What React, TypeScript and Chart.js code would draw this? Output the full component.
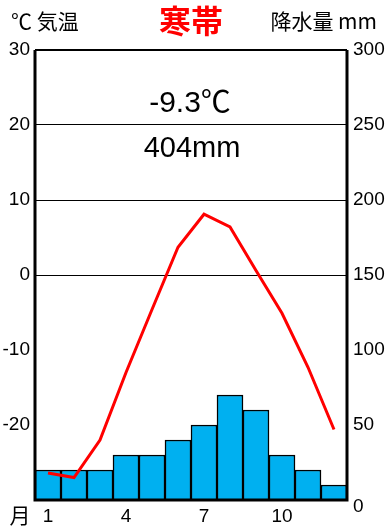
import React, { useEffect, useRef } from "react";
import { Chart, registerables } from "chart.js";

Chart.register(...registerables);

const months = ["1", "2", "3", "4", "5", "6", "7", "8", "9", "10", "11", "12"];
const shownMonthLabels = ["1", "4", "7", "10"];
const temperature = [-26.4, -27.0, -22.0, -13.0, -4.6, 3.7, 8.1, 6.4, 0.6, -5.1, -12.3, -20.6];
const precipitation = [20, 20, 20, 30, 30, 40, 50, 70, 60, 30, 20, 10];
const gridTemps = [0, 10, 20];
const title = "寒帯";
const leftTitle = "℃ 気温";
const rightTitle = "降水量 mm";
const meanTempText = "-9.3℃";
const totalPrecipText = "404mm";
const monthAxisText = "月";

const NUM_FONT = '"Liberation Sans", Arial, sans-serif';
const JP_FONT = '"Noto Sans CJK JP", sans-serif';

export default function App() {
  const ref = useRef<HTMLCanvasElement | null>(null);
  useEffect(() => {
    const canvas = ref.current;
    if (!canvas) return;
    const decor = {
      id: "decor",
      afterDatasetsDraw(chart: any) {
        const { ctx, chartArea: a } = chart;
        ctx.save();
        ctx.strokeStyle = "#000";
        ctx.lineWidth = 3;
        ctx.beginPath();
        ctx.moveTo(a.left, a.top);
        ctx.lineTo(a.left, a.bottom);
        ctx.lineTo(a.right, a.bottom);
        ctx.lineTo(a.right, a.top);
        ctx.stroke();
        ctx.lineWidth = 2;
        ctx.beginPath();
        ctx.moveTo(a.left, a.top);
        ctx.lineTo(a.right, a.top);
        ctx.stroke();
        ctx.restore();
      },
      afterDraw(chart: any) {
        const { ctx, chartArea: a } = chart;
        ctx.save();
        ctx.textBaseline = "middle";
        ctx.fillStyle = "#000";
        ctx.font = `21px ${JP_FONT}`;
        ctx.textAlign = "left";
        ctx.fillText(leftTitle, 11, 21);
        ctx.textAlign = "right";
        ctx.fillText(rightTitle, 377, 21);
        ctx.fillStyle = "#FF0000";
        ctx.textAlign = "center";
        ctx.font = `bold 32px ${JP_FONT}`;
        ctx.fillText(title, 191, 21);
        ctx.fillStyle = "#000";
        ctx.font = `30px "Liberation Sans", ${JP_FONT}`;
        ctx.fillText(meanTempText, 190, 104);
        ctx.font = `29px "Liberation Sans", ${JP_FONT}`;
        ctx.fillText(totalPrecipText, 192, 149);
        ctx.font = `21px ${JP_FONT}`;
        ctx.textAlign = "center";
        ctx.fillText(monthAxisText, 20, 515);
        ctx.font = `19px ${NUM_FONT}`;
        ctx.textAlign = "left";
        ctx.fillText("0", a.right + 6, 507);
        ctx.restore();
      },
    };
    const chart = new Chart(canvas, {
      type: "bar",
      data: {
        labels: months,
        datasets: [
          {
            type: "line",
            data: temperature,
            yAxisID: "y",
            borderColor: "#FF0000",
            borderWidth: 3,
            pointRadius: 0,
            tension: 0,
            order: 0,
          } as any,
          {
            type: "bar",
            data: precipitation,
            yAxisID: "y2",
            backgroundColor: "#00B0F0",
            borderColor: "#000",
            borderWidth: 1.5,
            categoryPercentage: 1,
            barPercentage: 1,
            order: 1,
          },
        ],
      },
      options: {
        responsive: false,
        animation: false,
        layout: { padding: { top: 50, left: 0, right: 0, bottom: 0 } },
        plugins: { legend: { display: false }, tooltip: { enabled: false }, title: { display: false } },
        scales: {
          x: {
            offset: true,
            grid: { display: false, drawTicks: false },
            border: { display: false },
            ticks: {
              autoSkip: false,
              maxRotation: 0,
              padding: 5,
              color: "#000",
              font: { size: 19, family: NUM_FONT },
              callback: (v: any, i: number) => (shownMonthLabels.includes(months[i]) ? months[i] : ""),
            },
            afterFit: (s: any) => {
              s.height = 29;
            },
          },
          y: {
            position: "left",
            min: -30,
            max: 30,
            ticks: {
              stepSize: 10,
              padding: 5,
              color: "#000",
              font: { size: 19, family: NUM_FONT },
              callback: (v: any) => (v === -30 ? "" : String(v)),
            },
            grid: {
              drawTicks: false,
              lineWidth: 1,
              color: (c: any) => (gridTemps.includes(c.tick?.value) ? "#000" : "rgba(0,0,0,0)"),
            },
            border: { display: false },
            afterFit: (s: any) => {
              s.width = 35;
            },
          },
          y2: {
            position: "right",
            min: 0,
            max: 300,
            ticks: {
              stepSize: 50,
              padding: 6,
              color: "#000",
              font: { size: 19, family: NUM_FONT },
              callback: (v: any) => (v === 0 ? "" : String(v)),
            },
            grid: { display: false, drawTicks: false },
            border: { display: false },
            afterFit: (s: any) => {
              s.width = 45;
            },
          },
        },
      },
      plugins: [decor],
    });
    return () => chart.destroy();
  }, []);
  return (
    <div style={{ position: "absolute", left: 0, top: 0, width: 392, height: 529, background: "#fff" }}>
      <canvas ref={ref} width={392} height={529} />
    </div>
  );
}
